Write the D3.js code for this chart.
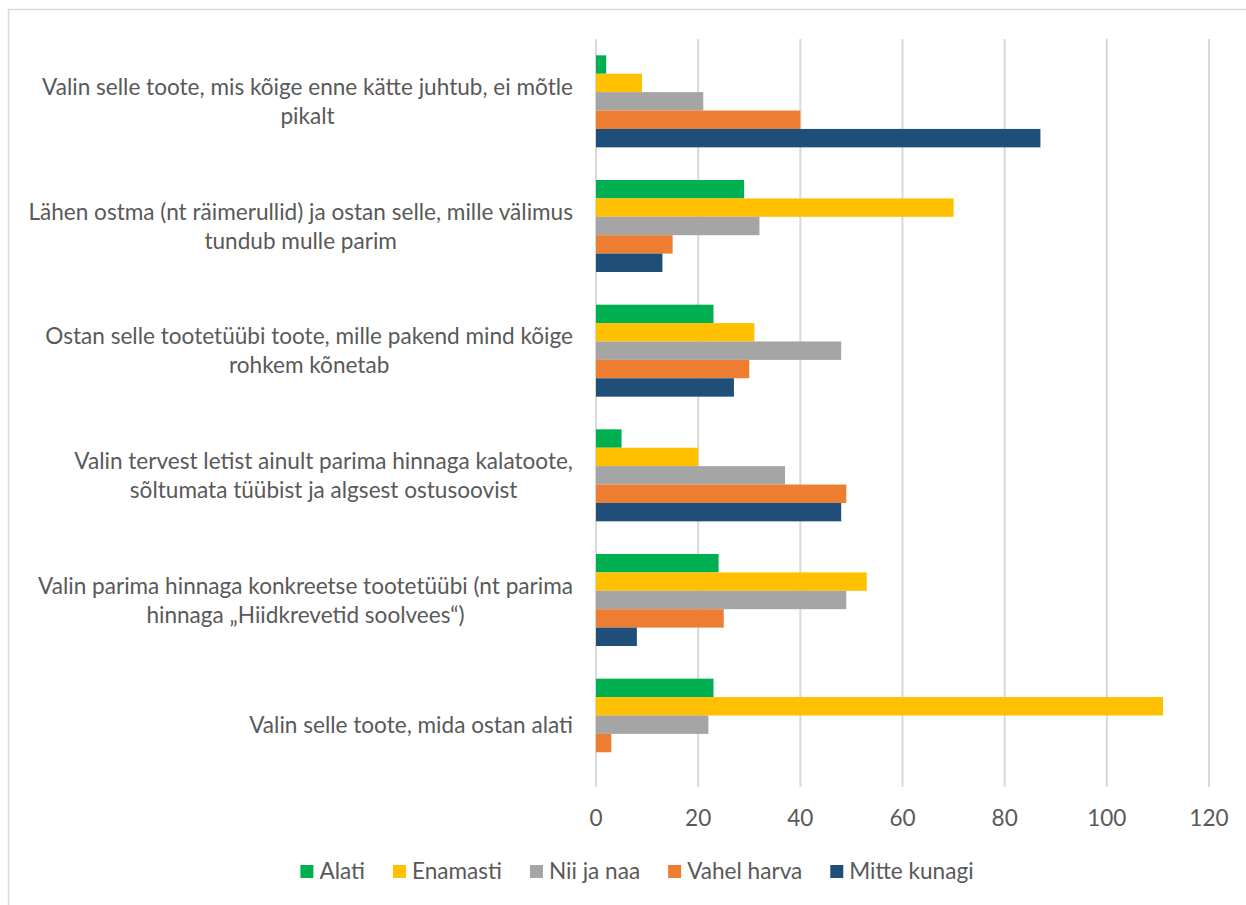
<!DOCTYPE html>
<html>
<head>
<meta charset="utf-8">
<script src="https://cdn.jsdelivr.net/npm/d3@7"></script>
<style>
  html, body { margin: 0; padding: 0; background: #fff; }
  svg { display: block; }
  text { font-family: Lato, "Open Sans", "Noto Sans", sans-serif; fill: #595959; }
</style>
</head>
<body>
<svg id="chart" width="1246" height="905"></svg>
<script>
// ---- data ----
const categories = [
  "Valin selle toote, mis kõige enne kätte juhtub, ei mõtle\npikalt",
  "Lähen ostma (nt räimerullid) ja ostan selle, mille välimus\ntundub mulle parim",
  "Ostan selle tootetüübi toote, mille pakend mind kõige\nrohkem kõnetab",
  "Valin tervest letist ainult parima hinnaga kalatoote,\nsõltumata tüübist ja algsest ostusoovist",
  "Valin parima hinnaga konkreetse tootetüübi (nt parima\nhinnaga „Hiidkrevetid soolvees“)",
  "Valin selle toote, mida ostan alati"
];
const seriesNames = ["Alati", "Enamasti", "Nii ja naa", "Vahel harva", "Mitte kunagi"];
const alati       = [2, 29, 23, 5, 24, 23];
const enamasti    = [9, 70, 31, 20, 53, 111];
const niiJaNaa    = [21, 32, 48, 37, 49, 22];
const vahelHarva  = [40, 15, 30, 49, 25, 3];
const mitteKunagi = [87, 13, 27, 48, 8, 0];
const tickValues  = [0, 20, 40, 60, 80, 100, 120];
const seriesColors = ["#00B050", "#FFC000", "#A5A5A5", "#ED7D31", "#1F4E79"];

const seriesValues = [alati, enamasti, niiJaNaa, vahelHarva, mitteKunagi];

// ---- layout ----
const svg = d3.select("#chart");
const plotLeft = 596, plotRight = 1209, plotTop = 39, plotBottom = 787;

// outer frame
svg.append("rect")
  .attr("x", 8.5).attr("y", 9.5).attr("width", 1300).attr("height", 1000)
  .attr("fill", "none").attr("stroke", "#D9D9D9").attr("stroke-width", 1.5);

const x = d3.scaleLinear().domain([0, 120]).range([plotLeft, plotRight]);
const y = d3.scaleBand().domain(categories).range([plotTop, plotBottom])
  .paddingInner(0.262).paddingOuter(0.131);
const ys = d3.scaleBand().domain(seriesNames).range([0, y.bandwidth()]).padding(0);
const color = d3.scaleOrdinal().domain(seriesNames).range(seriesColors);

// font fitting (match reference text width)
const probe = svg.append("text").attr("font-size", 24).text(categories[0].split("\n")[0]);
const probeW = probe.node().getComputedTextLength();
probe.remove();
const fs = 24 * 531 / probeW;

// gridlines
svg.append("g").selectAll("line").data(tickValues).join("line")
  .attr("x1", d => x(d)).attr("x2", d => x(d))
  .attr("y1", plotTop).attr("y2", plotBottom)
  .attr("stroke", "#D9D9D9").attr("stroke-width", 2);

// bars
const groups = svg.append("g").selectAll("g").data(categories).join("g")
  .attr("transform", d => `translate(0,${y(d)})`);
groups.selectAll("rect")
  .data((c, i) => seriesNames.map((s, j) => ({ s, v: seriesValues[j][i] })))
  .join("rect")
  .attr("x", x(0))
  .attr("y", d => ys(d.s))
  .attr("width", d => x(d.v) - x(0))
  .attr("height", ys.bandwidth())
  .attr("fill", d => color(d.s));

// x tick labels
svg.append("g").selectAll("text").data(tickValues).join("text")
  .attr("x", d => x(d)).attr("y", plotBottom + 39)
  .attr("text-anchor", "middle").attr("font-size", fs)
  .text(d => d);

// category labels: block right-aligned at 573, lines centered within block
const labelRight = 573, lineH = 29;
categories.forEach(c => {
  const lines = c.split("\n");
  const g = svg.append("g");
  const texts = lines.map((ln, k) => g.append("text")
    .attr("font-size", fs).attr("text-anchor", "middle")
    .attr("y", y(c) + y.bandwidth() / 2 + (k - (lines.length - 1) / 2) * lineH + fs * 0.36)
    .text(ln));
  const maxW = d3.max(texts, t => t.node().getComputedTextLength());
  texts.forEach(t => t.attr("x", labelRight - maxW / 2));
});

// legend
const legend = svg.append("g");
let cx = 0;
const sq = 13, gapSq = 6, gapItem = 28, legY = 879;
seriesNames.forEach(s => {
  const it = legend.append("g").attr("transform", `translate(${cx},0)`);
  it.append("rect").attr("x", 0).attr("y", legY - 14).attr("width", sq).attr("height", sq)
    .attr("fill", color(s));
  const t = it.append("text").attr("x", sq + gapSq).attr("y", legY)
    .attr("font-size", fs).text(s);
  cx += sq + gapSq + t.node().getComputedTextLength() + gapItem;
});
const totalW = cx - gapItem;
legend.attr("transform", `translate(${637 - totalW / 2},0)`);
</script>
</body>
</html>
